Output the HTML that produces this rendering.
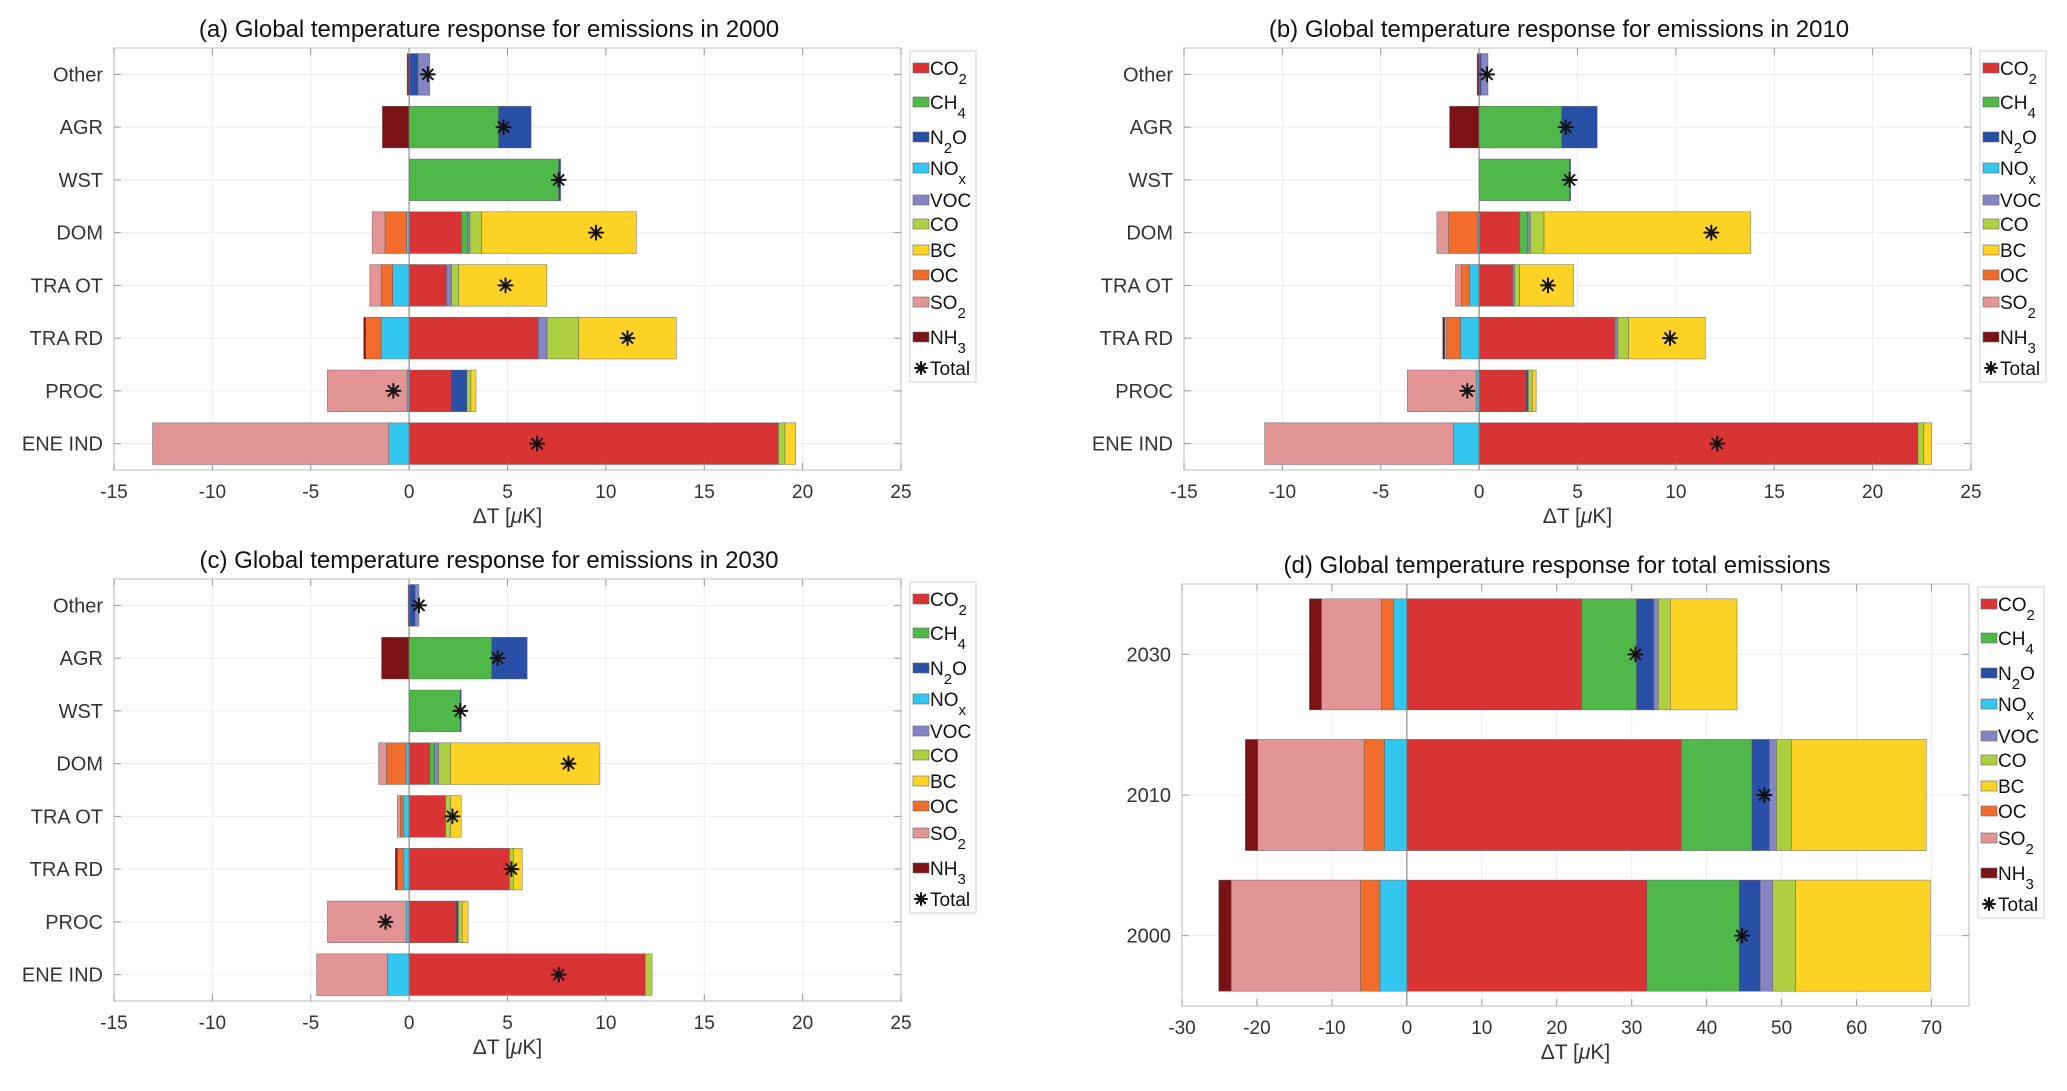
<!DOCTYPE html>
<html><head><meta charset="utf-8"><style>
body{margin:0;background:#fff;}
svg{display:block;font-family:"Liberation Sans",sans-serif;}
</style></head><body>
<svg id="fig" width="2067" height="1091" viewBox="0 0 2067 1091"></svg>
<script>
const species=['CO2','CH4','N2O','NOx','VOC','CO','BC','OC','SO2','NH3'];
const sectorCats=['Other','AGR','WST','DOM','TRA OT','TRA RD','PROC','ENE IND'];
const yearCats=['2030','2010','2000'];
const ticksSector=[-15,-10,-5,0,5,10,15,20,25];
const ticksTotal=[-30,-20,-10,0,10,20,30,40,50,60,70];

const a_CO2=[0,0,0,2.66,1.9,6.56,2.14,18.77];
const a_CH4=[0,4.55,7.6,0.3,0,0,0,0];
const a_N2O=[0.45,1.65,0.1,0,0,0,0.8,0];
const a_NOx=[0,0,0,-0.13,-0.84,-1.43,-0.1,-1.04];
const a_VOC=[0.6,0,0,0.13,0.26,0.45,0,0];
const a_CO=[0,0,0,0.6,0.36,1.6,0.2,0.33];
const a_BC=[0,0,0,7.86,4.48,4.97,0.26,0.55];
const a_OC=[0,0,0,-1.1,-0.58,-0.78,0,0];
const a_SO2=[0,0,0,-0.65,-0.58,0,-4.06,-12.0];
const a_NH3=[-0.1,-1.36,0,0,0,-0.1,0,0];
const a_Total=[0.95,4.8,7.6,9.5,4.9,11.1,-0.8,6.5];

const b_CO2=[0,0,0,2.05,1.7,6.9,2.4,22.3];
const b_CH4=[0,4.2,4.6,0.4,0,0,0,0];
const b_N2O=[0.1,1.8,0.05,0,0,0,0.1,0];
const b_NOx=[0,0,0,-0.1,-0.5,-0.95,-0.15,-1.3];
const b_VOC=[0.35,0,0,0.15,0.1,0.15,0,0];
const b_CO=[0,0,0,0.7,0.25,0.55,0.2,0.3];
const b_BC=[0,0,0,10.5,2.75,3.9,0.2,0.4];
const b_OC=[0,0,0,-1.45,-0.4,-0.7,0,0];
const b_SO2=[0,0,0,-0.6,-0.3,-0.1,-3.5,-9.6];
const b_NH3=[-0.1,-1.5,0,0,0,-0.1,0,0];
const b_Total=[0.4,4.4,4.6,11.8,3.5,9.7,-0.6,12.1];

const c_CO2=[0,0,0,1.05,1.85,5.1,2.4,12.0];
const c_CH4=[0,4.2,2.6,0.25,0,0,0,0];
const c_N2O=[0.3,1.8,0.05,0,0,0,0.1,0];
const c_NOx=[0,0,0,-0.15,-0.3,-0.3,-0.15,-1.1];
const c_VOC=[0.2,0,0,0.2,0,0,0,0];
const c_CO=[0,0,0,0.6,0.25,0.2,0.2,0.35];
const c_BC=[0,0,0,7.6,0.55,0.45,0.3,0];
const c_OC=[0,0,0,-1.0,-0.15,-0.3,0,0];
const c_SO2=[0,0,0,-0.4,-0.15,0,-4.0,-3.6];
const c_NH3=[-0.05,-1.4,0,0,0,-0.1,0,0];
const c_Total=[0.5,4.5,2.6,8.1,2.2,5.2,-1.2,7.6];

const d_CO2=[23.3,36.6,32.0];
const d_CH4=[7.35,9.45,12.35];
const d_N2O=[2.3,2.3,2.8];
const d_NOx=[-1.75,-3.0,-3.6];
const d_VOC=[0.6,0.95,1.65];
const d_CO=[1.6,2.0,3.05];
const d_BC=[8.9,18.0,18.0];
const d_OC=[-1.65,-2.7,-2.6];
const d_SO2=[-8.0,-14.2,-17.25];
const d_NH3=[-1.6,-1.65,-1.65];
const d_Total=[30.5,47.7,44.7];

const colors={CO2:'#d93336',CH4:'#4fb848',N2O:'#2a4fa6',NOx:'#33c6ee',VOC:'#8585c4',CO:'#add040',BC:'#fdd325',OC:'#f26d2c',SO2:'#e39595',NH3:'#7b1216'};
const legendLabels={CO2:['CO','2'],CH4:['CH','4'],N2O:['N','2','O'],NOx:['NO','x'],VOC:['VOC'],CO:['CO'],BC:['BC'],OC:['OC'],SO2:['SO','2'],NH3:['NH','3']};
const legendOffsets=[17,51,86,117,149,173,199,224,251,286,317];

const NS='http://www.w3.org/2000/svg';
const svg=document.getElementById('fig');
function mk(tag,attrs,parent){const e=document.createElementNS(NS,tag);for(const k in attrs)e.setAttribute(k,attrs[k]);(parent||svg).appendChild(e);return e;}
function star(cx,cy,r,parent){
  const g=mk('g',{stroke:'#111','stroke-width':2,'stroke-linecap':'round'},parent);
  for(let k=0;k<4;k++){const a=k*Math.PI/4;mk('line',{x1:cx-r*Math.cos(a),y1:cy-r*Math.sin(a),x2:cx+r*Math.cos(a),y2:cy+r*Math.sin(a)},g);}
  return g;
}

function panel(id,title,ox,oy,x0,x1,ticks,cats,series,totals){
  const L=ox,R=ox+787,T=oy,B=oy+422;
  const g=mk('g',{});
  
  
  const xs=v=>L+(v-x0)/(x1-x0)*(R-L);
  const rowH=(B-T)/cats.length;
  const yc=i=>T+rowH*(i+0.5);
  mk('rect',{x:L,y:T,width:R-L,height:B-T,fill:'#fff'},g);
  ticks.forEach(t=>{mk('line',{x1:xs(t),x2:xs(t),y1:T,y2:B,stroke:'#ededed','stroke-width':1},g);});
  cats.forEach((c,i)=>{mk('line',{x1:L,x2:R,y1:yc(i),y2:yc(i),stroke:'#ededed','stroke-width':1},g);});
  const bh=rowH*0.79;
  cats.forEach((c,i)=>{
    let pos=0,neg=0;
    species.forEach(s=>{
      const v=series[s][i];if(!v)return;
      let a,b;
      if(v>0){a=pos;b=pos+v;pos=b;}else{a=neg+v;b=neg;neg=a;}
      const r=mk('rect',{x:xs(a),y:yc(i)-bh/2,width:Math.max(0.5,xs(b)-xs(a)),height:bh,fill:colors[s],stroke:'#555','stroke-width':0.6,'stroke-opacity':0.7},g);
      
      
    });
  });
  mk('line',{x1:xs(0),x2:xs(0),y1:T,y2:B,stroke:'#777','stroke-width':1},g);
  cats.forEach((c,i)=>{
    const t=star(xs(totals[i]),yc(i),7,g);
    
    
  });
  mk('rect',{x:L,y:T,width:R-L,height:B-T,fill:'none',stroke:'#c8c8c8','stroke-width':1.2},g);
  ticks.forEach(t=>{
    mk('line',{x1:xs(t),x2:xs(t),y1:B,y2:B-7,stroke:'#999'},g);
    mk('line',{x1:xs(t),x2:xs(t),y1:T,y2:T+7,stroke:'#999'},g);
    const tx=mk('text',{x:xs(t),y:B+28,'text-anchor':'middle','font-size':19,fill:'#333'},g);
    tx.textContent=t;
    
    
  });
  cats.forEach((c,i)=>{
    mk('line',{x1:L,x2:L+7,y1:yc(i),y2:yc(i),stroke:'#999'},g);
    mk('line',{x1:R,x2:R-7,y1:yc(i),y2:yc(i),stroke:'#999'},g);
    const tx=mk('text',{x:L-11,y:yc(i)+7,'text-anchor':'end','font-size':20,fill:'#333'},g);
    tx.textContent=c;
    
    
  });
  const xl=mk('text',{x:(L+R)/2,y:B+53,'text-anchor':'middle','font-size':21,fill:'#333'},g);
  xl.innerHTML='ΔT [<tspan font-style="italic">μ</tspan>K]';
  
  
  const tt=mk('text',{x:L+375,y:T-11,'text-anchor':'middle','font-size':24,fill:'#111'},g);
  tt.textContent=title;
  
  
  const lx=R+9,ly=T+3;
  const lg=mk('g',{},g);
  
  
  mk('rect',{x:lx,y:ly,width:66,height:331,fill:'#fff',stroke:'#d0d0d0'},lg);
  species.forEach((s,k)=>{
    const cy=ly+legendOffsets[k];
    mk('rect',{x:lx+3,y:cy-5,width:16,height:10,fill:colors[s],stroke:'#666','stroke-width':0.6},lg);
    const tx=mk('text',{x:lx+20,y:cy+7,'font-size':19,fill:'#111'},lg);
    const p=legendLabels[s];
    let h=p[0];
    if(p.length>1)h+='<tspan font-size="15" dy="9">'+p[1]+'</tspan>';
    if(p.length>2)h+='<tspan dy="-9">'+p[2]+'</tspan>';
    tx.innerHTML=h;
    
    
  });
  const cy=ly+legendOffsets[10];
  star(lx+11,cy,6,lg);
  const tl=mk('text',{x:lx+20,y:cy+7,'font-size':19,fill:'#111'},lg);tl.textContent='Total';
  
  
}
panel('a','(a) Global temperature response for emissions in 2000',114,48,-15,25,ticksSector,sectorCats,{CO2:a_CO2,CH4:a_CH4,N2O:a_N2O,NOx:a_NOx,VOC:a_VOC,CO:a_CO,BC:a_BC,OC:a_OC,SO2:a_SO2,NH3:a_NH3},a_Total);
panel('b','(b) Global temperature response for emissions in 2010',1184,48,-15,25,ticksSector,sectorCats,{CO2:b_CO2,CH4:b_CH4,N2O:b_N2O,NOx:b_NOx,VOC:b_VOC,CO:b_CO,BC:b_BC,OC:b_OC,SO2:b_SO2,NH3:b_NH3},b_Total);
panel('c','(c) Global temperature response for emissions in 2030',114,579,-15,25,ticksSector,sectorCats,{CO2:c_CO2,CH4:c_CH4,N2O:c_N2O,NOx:c_NOx,VOC:c_VOC,CO:c_CO,BC:c_BC,OC:c_OC,SO2:c_SO2,NH3:c_NH3},c_Total);
panel('d','(d) Global temperature response for total emissions',1182,584,-30,75,ticksTotal,yearCats,{CO2:d_CO2,CH4:d_CH4,N2O:d_N2O,NOx:d_NOx,VOC:d_VOC,CO:d_CO,BC:d_BC,OC:d_OC,SO2:d_SO2,NH3:d_NH3},d_Total);
</script>
</body></html>
